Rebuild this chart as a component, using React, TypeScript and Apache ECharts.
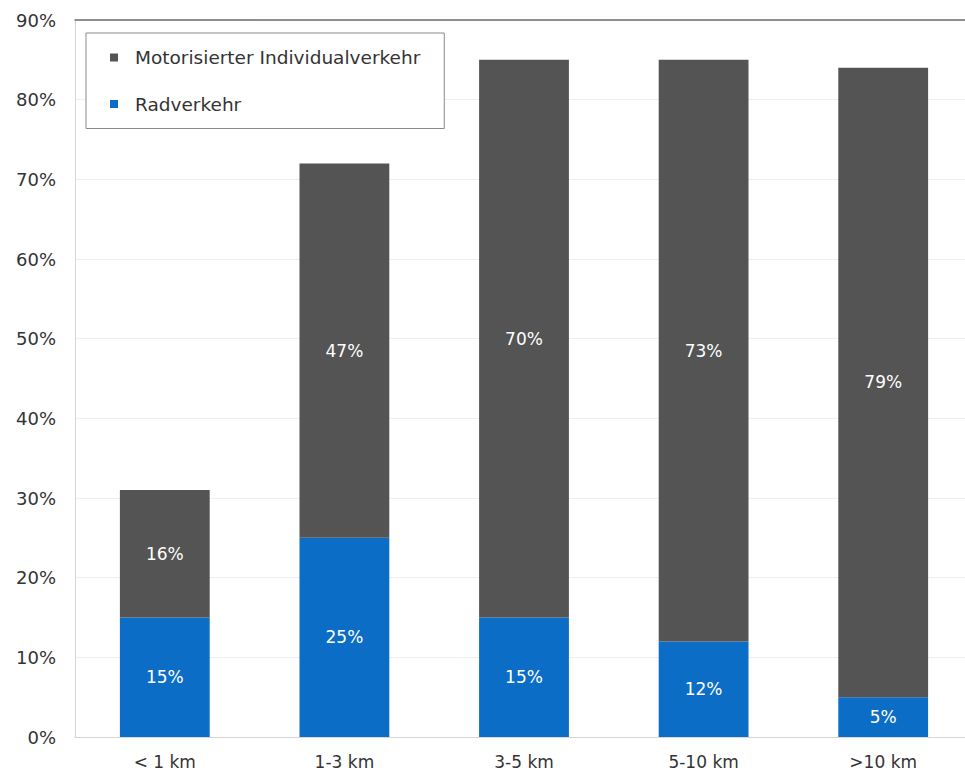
import React, { useEffect, useRef } from "react";
import * as echarts from "echarts";

const categories = ["< 1 km", "1-3 km", "3-5 km", "5-10 km", ">10 km"];
const radverkehr = [15, 25, 15, 12, 5];
const miv = [16, 47, 70, 73, 79];
const seriesNames = ["Motorisierter Individualverkehr", "Radverkehr"];
const yTicks = [0, 10, 20, 30, 40, 50, 60, 70, 80, 90];

const FONT = "DejaVu Sans";

export default function App() {
  const ref = useRef<HTMLDivElement>(null);
  useEffect(() => {
    if (!ref.current) return;
    const chart = echarts.init(ref.current, null, { renderer: "svg" });
    const labelStyle = {
      show: true,
      position: "inside",
      color: "#ffffff",
      fontFamily: FONT,
      fontSize: 17,
      formatter: (p: any) => p.value + "%",
    };
    chart.setOption({
      animation: false,
      backgroundColor: "#ffffff",
      textStyle: { fontFamily: FONT },
      grid: { left: 75, right: 0, top: 20, bottom: 41, containLabel: false },
      legend: {
        orient: "vertical",
        left: 86,
        top: 33,
        data: [seriesNames[0], seriesNames[1]],
        icon: "rect",
        itemWidth: 8,
        itemHeight: 8,
        itemGap: 27.5,
        padding: [15, 24, 15, 24],
        borderColor: "#8a8a8a",
        borderWidth: 1,
        backgroundColor: "#ffffff",
        textStyle: { fontFamily: FONT, fontSize: 18.5, color: "#333333", padding: [0, 0, 0, 12] },
      },
      xAxis: [
        {
          type: "category",
          data: categories,
          axisLine: { show: true, lineStyle: { color: "#d6d6d6", width: 1 } },
          axisTick: { show: false },
          axisLabel: { color: "#333333", fontFamily: FONT, fontSize: 17, margin: 16 },
        },
        {
          type: "category",
          data: categories,
          position: "top",
          axisLine: { show: true, lineStyle: { color: "#6e6e6e", width: 1.5 } },
          axisTick: { show: false },
          axisLabel: { show: false },
        },
      ],
      yAxis: {
        type: "value",
        min: yTicks[0],
        max: yTicks[yTicks.length - 1],
        interval: 10,
        axisLine: { show: true, lineStyle: { color: "#d6d6d6", width: 1 } },
        axisTick: { show: false },
        splitLine: { show: true, lineStyle: { color: "#efefef", width: 1 } },
        axisLabel: {
          color: "#333333",
          fontFamily: FONT,
          fontSize: 18,
          margin: 19,
          formatter: (v: number) => v + "%",
        },
      },
      series: [
        {
          name: seriesNames[1],
          type: "bar",
          stack: "total",
          data: radverkehr,
          barWidth: "50%",
          itemStyle: { color: "#0b6dc5" },
          label: labelStyle,
        },
        {
          name: seriesNames[0],
          type: "bar",
          stack: "total",
          data: miv,
          barWidth: "50%",
          itemStyle: { color: "#545454" },
          label: labelStyle,
        },
      ],
    });
    return () => chart.dispose();
  }, []);
  return (
    <div style={{ width: 965, height: 778, position: "absolute", left: 0, top: 0, overflow: "hidden" }}>
      <div ref={ref} style={{ width: 973, height: 778 }} />
    </div>
  );
}
